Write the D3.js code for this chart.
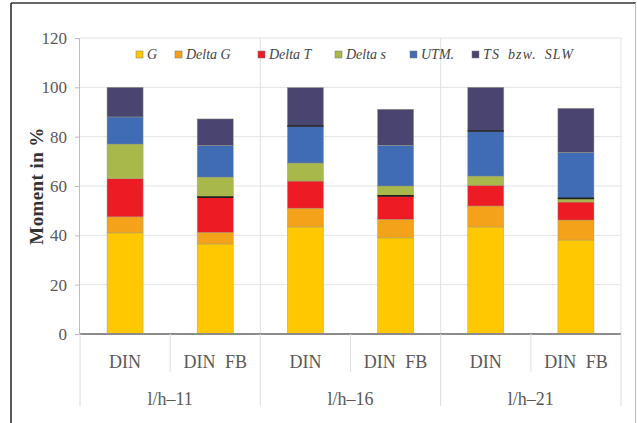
<!DOCTYPE html>
<html><head><meta charset="utf-8">
<script src="https://cdn.jsdelivr.net/npm/d3@7"></script>
<style>body{margin:0;background:#fff}svg{display:block}</style>
</head><body>
<script>
const groups = ["l/h–11", "l/h–16", "l/h–21"];
const subcats = ["DIN", "DIN FB"];
const seriesNames = ["G", "Delta G", "Delta T", "Delta s", "UTM.", "TS bzw. SLW"];
const G      = [41.0, 36.5, 43.4, 39.0, 43.4, 38.1];
const deltaG = [6.5, 4.7, 7.6, 7.5, 8.5, 8.1];
const deltaT = [15.5, 14.3, 11.0, 9.5, 8.4, 7.3];
const deltaS = [14.0, 8.1, 7.3, 4.0, 3.7, 1.5];
const UTM    = [11.0, 12.8, 15.0, 16.5, 18.3, 18.6];
const TS     = [12.0, 10.8, 15.6, 14.6, 17.7, 17.9];
// index of the series whose top edge carries a dark seam (-1 = none)
const darkSeam = [-1, 2, 4, 2, 4, 3];
const yTicks = [0, 20, 40, 60, 80, 100, 120];
const colors = ["#FFC800", "#F5A21B", "#ED1C24", "#A9B84A", "#3F6CB5", "#4A4570"];

const FONT = "'Liberation Serif', 'Times New Roman', serif";
const W = 637, H = 423;
const svg = d3.select("body").append("svg").attr("width", W).attr("height", H);
const L = 80, R = 621, T = 38, B = 334;

// outer frame
svg.append("line").attr("x1", 11).attr("x2", 11).attr("y1", 3).attr("y2", H).attr("stroke", "#222").attr("stroke-width", 1.5);
svg.append("line").attr("x1", 11).attr("x2", 636).attr("y1", 3).attr("y2", 3).attr("stroke", "#333").attr("stroke-width", 1.5);
svg.append("line").attr("x1", 635.5).attr("x2", 635.5).attr("y1", 3).attr("y2", H).attr("stroke", "#bbb").attr("stroke-width", 1);

const bars = [];
groups.forEach(g => subcats.forEach(s => bars.push({g, s})));
const data = bars.map((b, i) => {
  const vals = [G[i], deltaG[i], deltaT[i], deltaS[i], UTM[i], TS[i]];
  const o = {key: i};
  seriesNames.forEach((n, j) => o[n] = vals[j]);
  return o;
});

const x = d3.scaleBand().domain(d3.range(bars.length)).range([L, R]).paddingInner(0).paddingOuter(0);
const y = d3.scaleLinear().domain([0, 120]).range([B, T]);
const bw = x.bandwidth() / 2.5;

// horizontal grid
svg.append("g").selectAll("line").data(yTicks.filter(t => t > 0)).join("line")
  .attr("x1", L).attr("x2", R).attr("y1", d => y(d)).attr("y2", d => y(d))
  .attr("stroke", "#e3e3e3").attr("stroke-width", 1);
// vertical group grid lines
const groupBounds = [2, 4];
svg.append("g").selectAll("line").data(groupBounds).join("line")
  .attr("x1", d => x(d)).attr("x2", d => x(d)).attr("y1", T).attr("y2", B)
  .attr("stroke", "#e0e0e0").attr("stroke-width", 1);
svg.append("line").attr("x1", R).attr("x2", R).attr("y1", T).attr("y2", B).attr("stroke", "#e6e6e6");

// stacked bars
const stack = d3.stack().keys(seriesNames)(data);
const layer = svg.append("g").selectAll("g").data(stack).join("g").attr("fill", (d, i) => colors[i]);
layer.selectAll("rect").data(d => d).join("rect")
  .attr("x", (d, i) => x(i) + (x.bandwidth() - bw) / 2)
  .attr("width", bw)
  .attr("y", d => y(d[1]))
  .attr("height", d => y(d[0]) - y(d[1]))
  .attr("stroke", "#9a9a7a").attr("stroke-width", 0.6).attr("stroke-opacity", 0.7);
// dark seams
svg.append("g").selectAll("line").data(d3.range(bars.length).filter(i => darkSeam[i] >= 0)).join("line")
  .attr("x1", i => x(i) + (x.bandwidth() - bw) / 2).attr("x2", i => x(i) + (x.bandwidth() + bw) / 2)
  .attr("y1", i => y(stack[darkSeam[i]][i][1])).attr("y2", i => y(stack[darkSeam[i]][i][1]))
  .attr("stroke", "#222").attr("stroke-width", 1.6);

// y axis
const yAxis = svg.append("g").attr("transform", `translate(${L},0)`)
  .call(d3.axisLeft(y).tickValues(yTicks).tickSize(5).tickPadding(8).tickFormat(d3.format("d")));
yAxis.select(".domain").attr("stroke", "#bdbdbd").attr("d", `M-0.5,${T}V${B}`);
yAxis.selectAll(".tick line").attr("stroke", "#bdbdbd");
yAxis.selectAll("text").attr("font-family", FONT).attr("font-size", 17).attr("fill", "#595959");

// x axis baseline
svg.append("line").attr("x1", L).attr("x2", R).attr("y1", B).attr("y2", B).attr("stroke", "#8c8c8c").attr("stroke-width", 1.8);

// x axis category separators
const sepSub = [1, 3, 5];
svg.append("g").selectAll("line").data(sepSub).join("line")
  .attr("x1", d => x(d)).attr("x2", d => x(d)).attr("y1", B).attr("y2", 372)
  .attr("stroke", "#e0e0e0");
svg.append("g").selectAll("line").data([0, 2, 4, 6]).join("line")
  .attr("x1", d => d === 6 ? R : x(d)).attr("x2", d => d === 6 ? R : x(d)).attr("y1", B).attr("y2", 406)
  .attr("stroke", "#dcdcdc");

// x labels
svg.append("g").selectAll("text").data(bars).join("text")
  .attr("x", (d, i) => x(i) + x.bandwidth() / 2).attr("y", 368)
  .attr("text-anchor", "middle").attr("font-family", FONT).attr("font-size", 18).attr("fill", "#595959")
  .attr("word-spacing", 5)
  .text(d => d.s);
svg.append("g").selectAll("text").data(groups).join("text")
  .attr("x", (d, i) => x(i * 2 + 1)).attr("y", 405)
  .attr("text-anchor", "middle").attr("font-family", FONT).attr("font-size", 18).attr("fill", "#595959")
  .text(d => d);

// y title
svg.append("text").attr("transform", `translate(43,186) rotate(-90)`)
  .attr("text-anchor", "middle").attr("font-family", FONT).attr("font-weight", "bold")
  .attr("font-size", 19).attr("fill", "#333").attr("letter-spacing", 0.4).text("Moment in %");

// legend
const legX = [136, 175, 258, 335, 410, 472];
const leg = svg.append("g").selectAll("g").data(seriesNames).join("g")
  .attr("transform", (d, i) => `translate(${legX[i]},54.5)`);
leg.append("rect").attr("x", 0).attr("y", -3.5).attr("width", 7).attr("height", 7)
  .attr("fill", (d, i) => colors[i]).attr("stroke", "#777").attr("stroke-width", 0.5);
leg.append("text").attr("x", 11).attr("y", 4.5).attr("font-family", FONT).attr("font-style", "italic")
  .attr("font-size", 14).attr("fill", "#444")
  .attr("word-spacing", (d, i) => i === 5 ? 3 : 0)
  .attr("letter-spacing", (d, i) => i === 5 ? 1.2 : 0)
  .text(d => d);
</script>
</body></html>
